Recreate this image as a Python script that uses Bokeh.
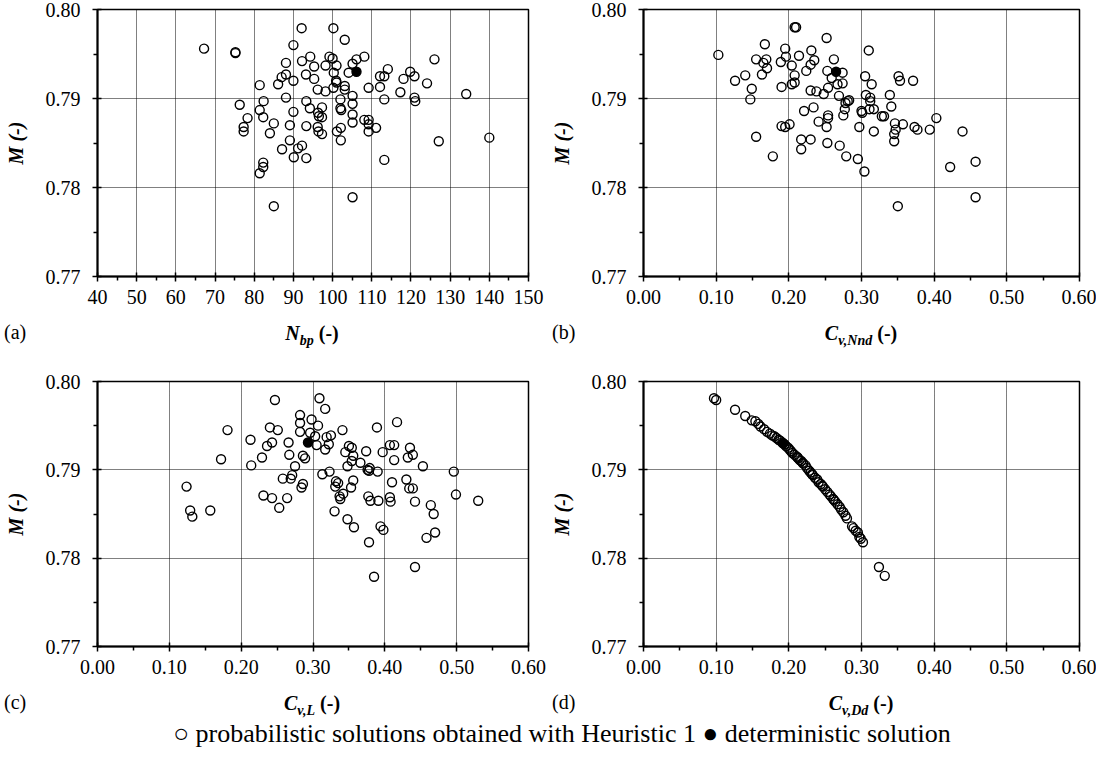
from bokeh.plotting import figure
from bokeh.models import Range1d, FixedTicker, NumeralTickFormatter, Div
from bokeh.layouts import column, row
from bokeh.embed import file_html
from bokeh.resources import INLINE

# ---------------- data ----------------
# panel (a): N_bp vs M
a_points = [
    (67.2, 0.7956), (75.2, 0.7952), (75.2, 0.7951), (76.3, 0.7893), (78.3, 0.7878),
    (77.3, 0.7868), (77.3, 0.7863), (81.4, 0.7915), (82.4, 0.7897), (81.4, 0.7887),
    (82.3, 0.7879), (82.3, 0.7828), (82.3, 0.7823), (81.4, 0.7816), (85.0, 0.7779),
    (84.0, 0.7861), (85.0, 0.7872), (86.1, 0.7916), (87.0, 0.7924), (88.1, 0.7927),
    (88.1, 0.7940), (88.1, 0.7901), (87.1, 0.7843), (89.1, 0.7853), (89.1, 0.7870),
    (90.0, 0.7885), (90.0, 0.7920), (90.0, 0.7960), (90.1, 0.7834), (91.2, 0.7844),
    (92.2, 0.7847), (92.2, 0.7942), (92.1, 0.7979), (93.2, 0.7927), (93.3, 0.7897),
    (94.2, 0.7889), (93.3, 0.7869), (93.3, 0.7833), (94.3, 0.7947), (95.3, 0.7936),
    (95.3, 0.7922), (96.2, 0.7910), (96.3, 0.7884), (96.5, 0.7880), (97.3, 0.7890),
    (97.3, 0.7879), (96.2, 0.7868), (96.4, 0.7863), (97.3, 0.7860), (98.2, 0.7908),
    (98.2, 0.7937), (99.2, 0.7947), (100.0, 0.7945), (100.2, 0.7979), (100.3, 0.7929),
    (101.0, 0.7937), (100.2, 0.7912), (100.9, 0.7920), (101.0, 0.7918), (102.0, 0.7899),
    (102.0, 0.7889), (102.2, 0.7887), (101.1, 0.7863), (102.1, 0.7867), (102.1, 0.7853),
    (103.1, 0.7966), (103.1, 0.7914), (103.1, 0.7910), (104.1, 0.7929), (105.1, 0.7939),
    (106.1, 0.7944), (105.1, 0.7903), (105.1, 0.7894), (105.1, 0.7882), (105.1, 0.7873),
    (105.1, 0.7789), (108.1, 0.7947), (109.2, 0.7912), (108.1, 0.7876), (109.2, 0.7876),
    (109.2, 0.7871), (109.2, 0.7863), (111.1, 0.7867), (112.1, 0.7925), (112.1, 0.7913),
    (113.2, 0.7925), (114.1, 0.7933), (113.2, 0.7899), (113.2, 0.7831), (117.3, 0.7907),
    (118.1, 0.7922), (119.8, 0.7930), (120.9, 0.7925), (120.9, 0.7901), (121.1, 0.7897),
    (124.1, 0.7917), (126.0, 0.7944), (127.1, 0.7852), (134.1, 0.7905), (140.0, 0.7856),
]
a_det = (106.1, 0.7930)

# panel (b): C_v,Nnd vs M
b_points = [
    (0.103, 0.7949), (0.126, 0.7920), (0.140, 0.7926), (0.147, 0.7899), (0.149, 0.7911),
    (0.155, 0.7944), (0.163, 0.7927), (0.165, 0.7940), (0.167, 0.7961), (0.169, 0.7944),
    (0.170, 0.7934), (0.155, 0.7857), (0.178, 0.7835), (0.189, 0.7941), (0.190, 0.7913),
    (0.190, 0.7869), (0.195, 0.7868), (0.201, 0.7871), (0.195, 0.7956), (0.196, 0.7947),
    (0.204, 0.7937), (0.208, 0.7980), (0.210, 0.7980), (0.208, 0.7926), (0.204, 0.7916),
    (0.208, 0.7918), (0.214, 0.7948), (0.217, 0.7854), (0.217, 0.7843), (0.230, 0.7854),
    (0.221, 0.7886), (0.224, 0.7931), (0.231, 0.7954), (0.230, 0.7938), (0.235, 0.7943),
    (0.230, 0.7909), (0.238, 0.7908), (0.234, 0.7890), (0.241, 0.7874), (0.248, 0.7905),
    (0.252, 0.7968), (0.253, 0.7931), (0.254, 0.7912), (0.254, 0.7881), (0.254, 0.7878),
    (0.252, 0.7868), (0.253, 0.7850), (0.262, 0.7944), (0.259, 0.7923), (0.267, 0.7916),
    (0.274, 0.7929), (0.274, 0.7917), (0.269, 0.7903), (0.278, 0.7895), (0.281, 0.7897),
    (0.283, 0.7898), (0.277, 0.7888), (0.275, 0.7881), (0.270, 0.7847), (0.279, 0.7835),
    (0.295, 0.7832), (0.297, 0.7868), (0.300, 0.7886), (0.301, 0.7884), (0.304, 0.7818),
    (0.305, 0.7925), (0.306, 0.7904), (0.310, 0.7954), (0.312, 0.7901), (0.312, 0.7897),
    (0.311, 0.7888), (0.317, 0.7888), (0.314, 0.7916), (0.317, 0.7863), (0.328, 0.7880),
    (0.331, 0.7880), (0.339, 0.7904), (0.341, 0.7891), (0.346, 0.7872), (0.347, 0.7865),
    (0.345, 0.7860), (0.345, 0.7852), (0.351, 0.7925), (0.353, 0.7920), (0.357, 0.7871),
    (0.350, 0.7779), (0.371, 0.7920), (0.373, 0.7868), (0.377, 0.7865), (0.394, 0.7865),
    (0.403, 0.7878), (0.422, 0.7823), (0.439, 0.7863), (0.457, 0.7829), (0.457, 0.7789),
]
b_det = (0.265, 0.7930)

# panel (c): C_v,L vs M
c_points = [
    (0.124, 0.7881), (0.129, 0.7854), (0.132, 0.7847), (0.157, 0.7854), (0.172, 0.7912),
    (0.181, 0.7945), (0.213, 0.7934), (0.214, 0.7905), (0.229, 0.7914), (0.236, 0.7927),
    (0.231, 0.7871), (0.240, 0.7948), (0.243, 0.7931), (0.243, 0.7868), (0.247, 0.7979),
    (0.251, 0.7945), (0.253, 0.7857), (0.258, 0.7890), (0.264, 0.7868), (0.266, 0.7931),
    (0.267, 0.7917), (0.269, 0.7890), (0.271, 0.7894), (0.275, 0.7904), (0.282, 0.7962),
    (0.282, 0.7953), (0.282, 0.7943), (0.284, 0.7880), (0.286, 0.7884), (0.286, 0.7916),
    (0.289, 0.7913), (0.298, 0.7957), (0.296, 0.7942), (0.303, 0.7938), (0.305, 0.7928),
    (0.307, 0.7950), (0.309, 0.7981), (0.313, 0.7895), (0.317, 0.7969), (0.317, 0.7923),
    (0.319, 0.7937), (0.322, 0.7929), (0.325, 0.7939), (0.323, 0.7898), (0.330, 0.7853),
    (0.331, 0.7881), (0.332, 0.7887), (0.335, 0.7885), (0.337, 0.7870), (0.338, 0.7867),
    (0.342, 0.7873), (0.341, 0.7945), (0.345, 0.7920), (0.348, 0.7904), (0.350, 0.7927),
    (0.354, 0.7925), (0.353, 0.7880), (0.356, 0.7916), (0.354, 0.7910), (0.356, 0.7888),
    (0.348, 0.7844), (0.357, 0.7835), (0.366, 0.7908), (0.374, 0.7921), (0.376, 0.7900),
    (0.379, 0.7902), (0.378, 0.7899), (0.377, 0.7870), (0.380, 0.7865), (0.378, 0.7818),
    (0.385, 0.7779), (0.389, 0.7948), (0.390, 0.7898), (0.391, 0.7865), (0.394, 0.7836),
    (0.398, 0.7832), (0.397, 0.7920), (0.407, 0.7928), (0.413, 0.7928), (0.417, 0.7954),
    (0.413, 0.7911), (0.410, 0.7886), (0.407, 0.7869), (0.408, 0.7864), (0.430, 0.7889),
    (0.432, 0.7914), (0.435, 0.7925), (0.439, 0.7917), (0.434, 0.7879), (0.439, 0.7879),
    (0.442, 0.7864), (0.442, 0.7790), (0.453, 0.7904), (0.464, 0.7860), (0.468, 0.7850),
    (0.458, 0.7823), (0.470, 0.7829), (0.496, 0.7898), (0.499, 0.7872), (0.530, 0.7865),
]
c_det = (0.293, 0.7931)

# panel (d): C_v,Dd vs M
d_points = [
    (0.097, 0.7981), (0.100, 0.7979), (0.126, 0.7968), (0.140, 0.7961), (0.149, 0.7956),
    (0.154, 0.7955), (0.158, 0.7952), (0.161, 0.7949), (0.166, 0.7946), (0.170, 0.7943),
    (0.174, 0.7941), (0.177, 0.7939), (0.180, 0.7938), (0.183, 0.7936), (0.186, 0.7934),
    (0.188, 0.7933), (0.191, 0.7931), (0.194, 0.7929), (0.196, 0.7927), (0.199, 0.7925),
    (0.201, 0.7923), (0.203, 0.7921), (0.205, 0.7919), (0.208, 0.7917), (0.211, 0.7915),
    (0.212, 0.7914), (0.213, 0.7913), (0.215, 0.7911), (0.217, 0.7910), (0.219, 0.7908),
    (0.220, 0.7907), (0.223, 0.7905), (0.225, 0.7902), (0.228, 0.7899), (0.230, 0.7897),
    (0.232, 0.7895), (0.233, 0.7894), (0.236, 0.7891), (0.239, 0.7889), (0.241, 0.7886),
    (0.244, 0.7884), (0.246, 0.7882), (0.247, 0.7881), (0.250, 0.7878), (0.253, 0.7875),
    (0.256, 0.7872), (0.258, 0.7870), (0.261, 0.7867), (0.262, 0.7866), (0.264, 0.7864),
    (0.267, 0.7861), (0.270, 0.7858), (0.272, 0.7855), (0.275, 0.7852), (0.278, 0.7848),
    (0.280, 0.7845), (0.287, 0.7836), (0.289, 0.7834), (0.292, 0.7831), (0.295, 0.7829),
    (0.297, 0.7824), (0.299, 0.7822), (0.302, 0.7818), (0.324, 0.7790), (0.332, 0.7780),
]
d_det = (0.192, 0.7930)

a_xticks = [40, 50, 60, 70, 80, 90, 100, 110, 120, 130, 140, 150]
cv_xticks = [0.0, 0.1, 0.2, 0.3, 0.4, 0.5, 0.6]
m_yticks = [0.77, 0.78, 0.79, 0.80]

y_title = "M (-)"
x_titles = [("N", "bp"), ("C", "v,Nnd"), ("C", "v,L"), ("C", "v,Dd")]
tags = ["(a)", "(b)", "(c)", "(d)"]
legend_text = "\u25cb probabilistic solutions obtained with Heuristic 1 \u25cf deterministic solution"

# ---------------- styling ----------------
SERIF = "Liberation Serif"


def mids(t):
    return [(t[i] + t[i + 1]) / 2 for i in range(len(t) - 1)]


def panel(points, det, xticks, fmt, width, height, left, right, top, bottom):
    x0, x1 = xticks[0], xticks[-1]
    p = figure(width=width, height=height, output_backend="svg", toolbar_location=None,
               x_range=Range1d(x0, x1), y_range=Range1d(m_yticks[0], m_yticks[-1]),
               min_border_left=left, min_border_right=right,
               min_border_top=top, min_border_bottom=bottom,
               background_fill_color="white", border_fill_color="white")
    p.outline_line_color = "black"
    p.outline_line_width = 1.5
    p.outline_line_alpha = 1.0

    p.xaxis.ticker = FixedTicker(ticks=xticks, minor_ticks=mids(xticks))
    p.yaxis.ticker = FixedTicker(ticks=m_yticks, minor_ticks=mids(m_yticks))
    p.xaxis.formatter = NumeralTickFormatter(format=fmt)
    p.yaxis.formatter = NumeralTickFormatter(format="0.00")
    for ax in (p.xaxis, p.yaxis):
        ax.axis_line_color = "black"
        ax.axis_line_width = 2
        ax.major_tick_line_color = "black"
        ax.major_tick_line_width = 1.5
        ax.minor_tick_line_color = "black"
        ax.minor_tick_line_width = 1.5
        ax.major_tick_in = 4
        ax.major_tick_out = 5
        ax.minor_tick_in = 0
        ax.minor_tick_out = 4
        ax.major_label_text_font = SERIF
        ax.major_label_text_font_size = "20px"
        ax.major_label_text_color = "black"
    p.xaxis.major_label_standoff = 8
    p.yaxis.major_label_standoff = 12

    p.yaxis.axis_label = y_title
    p.yaxis.axis_label_text_font = SERIF
    p.yaxis.axis_label_text_font_style = "bold italic"
    p.yaxis.axis_label_text_font_size = "20px"
    p.yaxis.axis_label_text_color = "black"
    p.yaxis.axis_label_standoff = 16

    p.xgrid.ticker = FixedTicker(ticks=xticks)
    p.ygrid.ticker = FixedTicker(ticks=m_yticks)
    for g in (p.xgrid, p.ygrid):
        g.grid_line_color = "black"
        g.grid_line_width = 1
        g.grid_line_dash = "1 1"

    xs = [q[0] for q in points]
    ys = [q[1] for q in points]
    p.scatter(x=xs, y=ys, marker="circle", size=9, fill_color=None,
              line_color="black", line_width=1.4)
    p.scatter(x=[det[0]], y=[det[1]], marker="circle", size=9,
              fill_color="black", line_color="black", line_width=1.4)
    return p


def title_html(main, sub, cx, baseline):
    return (f'<span style="position:absolute;left:{cx}px;top:{baseline - 17}px;'
            f'transform:translateX(-50%);white-space:nowrap;font-size:20px;line-height:20px;'
            f'font-weight:bold;">'
            f'<i>{main}<span style="font-size:14px;position:relative;top:5px;">{sub}</span></i>'
            f'&nbsp;(-)</span>')


def tag_html(text, x, baseline):
    return (f'<span style="position:absolute;left:{x}px;top:{baseline - 17}px;'
            f'white-space:nowrap;font-size:20px;line-height:20px;">{text}</span>')


def text_row(height, parts):
    html = (f'<div style="position:relative;width:1096px;height:{height}px;'
            f'font-family:\'{SERIF}\',serif;color:black;">' + "".join(parts) + '</div>')
    return Div(text=html, width=1096, height=height, margin=(0, 0, 0, 0))


pa = panel(a_points, a_det, a_xticks, "0", 546, 316, 97, 18, 9, 40)
pb = panel(b_points, b_det, cv_xticks, "0.00", 550, 316, 97, 17, 9, 40)
pc = panel(c_points, c_det, cv_xticks, "0.00", 546, 326, 97, 18, 21, 40)
pd = panel(d_points, d_det, cv_xticks, "0.00", 550, 326, 97, 17, 21, 40)

row1_text = text_row(44, [
    tag_html(tags[0], 4, 23),
    title_html(*x_titles[0], 312, 24),
    tag_html(tags[1], 552, 23),
    title_html(*x_titles[1], 861, 24),
])
row2_text = text_row(68, [
    tag_html(tags[2], 4, 23),
    title_html(*x_titles[2], 312, 24),
    tag_html(tags[3], 552, 23),
    title_html(*x_titles[3], 861, 24),
    f'<span style="position:absolute;left:562px;top:35px;transform:translateX(-50%);'
    f'white-space:nowrap;font-size:26px;line-height:26px;">{legend_text}</span>',
])

layout = column(row(pa, pb), row1_text, row(pc, pd), row2_text)

with open("out.html", "w") as f:
    f.write(file_html(layout, INLINE))
